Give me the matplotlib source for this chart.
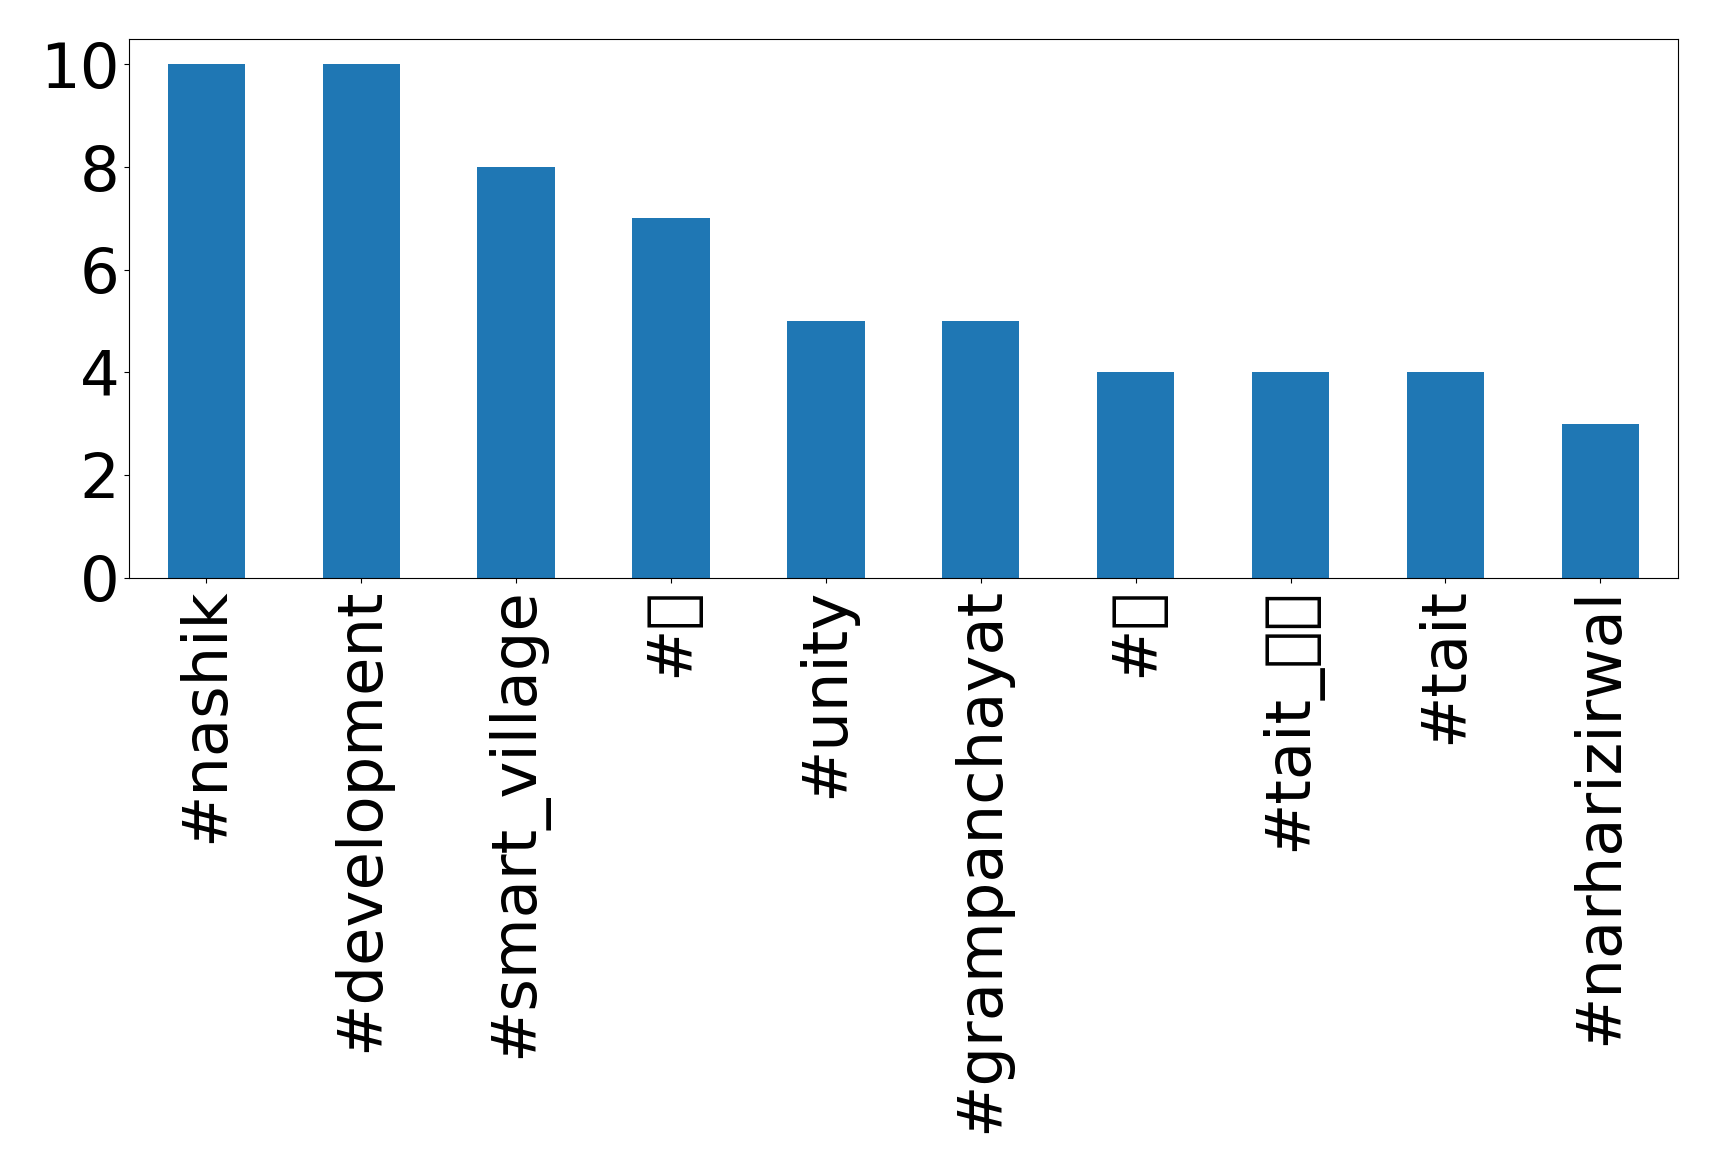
import matplotlib
matplotlib.use("Agg")
import matplotlib.pyplot as plt
import warnings
warnings.filterwarnings("ignore")

# The reference shows these hashtags' non-Latin parts as missing-glyph boxes;
# characters that no installed font covers are used so they render the same way.
categories = ["#nashik", "#development", "#smart_village", "#\U0001F64F", "#unity",
              "#grampanchayat", "#\U0001F6A9", "#tait_\U0001F1EE\U0001F1F3", "#tait",
              "#narharizirwal"]
values = [10, 10, 8, 7, 5, 5, 4, 4, 4, 3]
yticks = [0, 2, 4, 6, 8, 10]

fig = plt.figure(figsize=(17.19, 11.74), dpi=100)
ax = fig.add_axes([0.075, 0.508, 0.901, 0.459])
x = list(range(len(categories)))
ax.bar(x, values, width=0.5, color="#1f77b4")
ax.set_xlim(-0.5, len(categories) - 0.5)
ax.set_ylim(0, 10.5)
ax.set_xticks(x)
ax.set_xticklabels(categories, rotation=90, fontsize=45)
ax.set_yticks(yticks)
ax.tick_params(axis="y", labelsize=45)
fig.savefig("out.png", dpi=100)
